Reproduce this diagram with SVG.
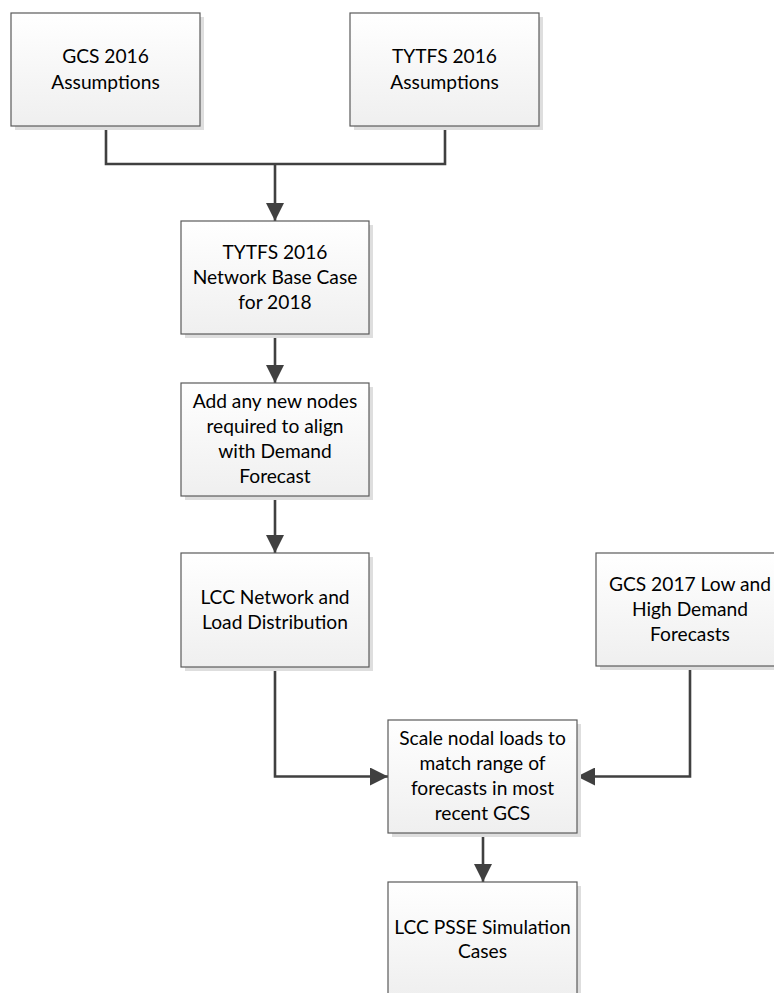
<svg xmlns="http://www.w3.org/2000/svg" width="774" height="993" viewBox="0 0 774 993">
<style>
.box{fill:url(#g);stroke:#5a5a5a;stroke-width:1.2}
.sh{fill:#dedede}
.t{font-family:Lato,"Open Sans","Liberation Sans",sans-serif;font-size:19.2px;fill:#000;text-anchor:middle}
.c{fill:none;stroke:#404040;stroke-width:2.6}
</style>
<defs>
<linearGradient id="g" x1="0" y1="0" x2="0" y2="1">
<stop offset="0" stop-color="#ffffff"/>
<stop offset="1" stop-color="#efefef"/>
</linearGradient>
<marker id="a" markerUnits="userSpaceOnUse" markerWidth="18" markerHeight="18" refX="18" refY="9" orient="auto">
<path d="M0,0 L18,9 L0,18 z" fill="#404040"/>
</marker>
</defs>
<rect width="774" height="993" fill="#fff"/>
<g id="connectors">
<path class="c" d="M106 126 V164 H445 V126"/>
<path class="c" d="M275 164 V221" marker-end="url(#a)"/>
<path class="c" d="M275 334 V383" marker-end="url(#a)"/>
<path class="c" d="M275 496 V553" marker-end="url(#a)"/>
<path class="c" d="M275 667 V776.5 H388" marker-end="url(#a)"/>
<path class="c" d="M690 666 V776.5 H577" marker-end="url(#a)"/>
<path class="c" d="M483 833 V882" marker-end="url(#a)"/>
</g>
<g id="n1">
<rect class="sh" x="15" y="17" width="189" height="113"/>
<rect class="box" x="11" y="13" width="189" height="113"/>
<text class="t" x="105.5" y="63">GCS 2016</text>
<text class="t" x="105.5" y="89">Assumptions</text>
</g>
<g id="n2">
<rect class="sh" x="354" y="17" width="189" height="113"/>
<rect class="box" x="350" y="13" width="189" height="113"/>
<text class="t" x="444.5" y="63">TYTFS 2016</text>
<text class="t" x="444.5" y="89">Assumptions</text>
</g>
<g id="n3">
<rect class="sh" x="185" y="225" width="188" height="113"/>
<rect class="box" x="181" y="221" width="188" height="113"/>
<text class="t" x="275" y="259">TYTFS 2016</text>
<text class="t" x="275" y="284">Network Base Case</text>
<text class="t" x="275" y="309">for 2018</text>
</g>
<g id="n4">
<rect class="sh" x="185" y="387" width="188" height="113"/>
<rect class="box" x="181" y="383" width="188" height="113"/>
<text class="t" x="275" y="408">Add any new nodes</text>
<text class="t" x="275" y="433">required to align</text>
<text class="t" x="275" y="458">with Demand</text>
<text class="t" x="275" y="483">Forecast</text>
</g>
<g id="n5">
<rect class="sh" x="185" y="557" width="188" height="114"/>
<rect class="box" x="181" y="553" width="188" height="114"/>
<text class="t" x="275" y="604">LCC Network and</text>
<text class="t" x="275" y="628.5">Load Distribution</text>
</g>
<g id="n6">
<rect class="sh" x="600" y="557" width="189" height="113"/>
<rect class="box" x="596" y="553" width="189" height="113"/>
<text class="t" x="690" y="591">GCS 2017 Low and</text>
<text class="t" x="690" y="616">High Demand</text>
<text class="t" x="690" y="641">Forecasts</text>
</g>
<g id="n7">
<rect class="sh" x="392" y="724" width="189" height="113"/>
<rect class="box" x="388" y="720" width="189" height="113"/>
<text class="t" x="482.5" y="745">Scale nodal loads to</text>
<text class="t" x="482.5" y="770">match range of</text>
<text class="t" x="482.5" y="795">forecasts in most</text>
<text class="t" x="482.5" y="820">recent GCS</text>
</g>
<g id="n8">
<rect class="sh" x="392" y="886" width="189" height="113"/>
<rect class="box" x="388" y="882" width="189" height="113"/>
<text class="t" x="482.5" y="934">LCC PSSE Simulation</text>
<text class="t" x="482.5" y="958">Cases</text>
</g>
</svg>
